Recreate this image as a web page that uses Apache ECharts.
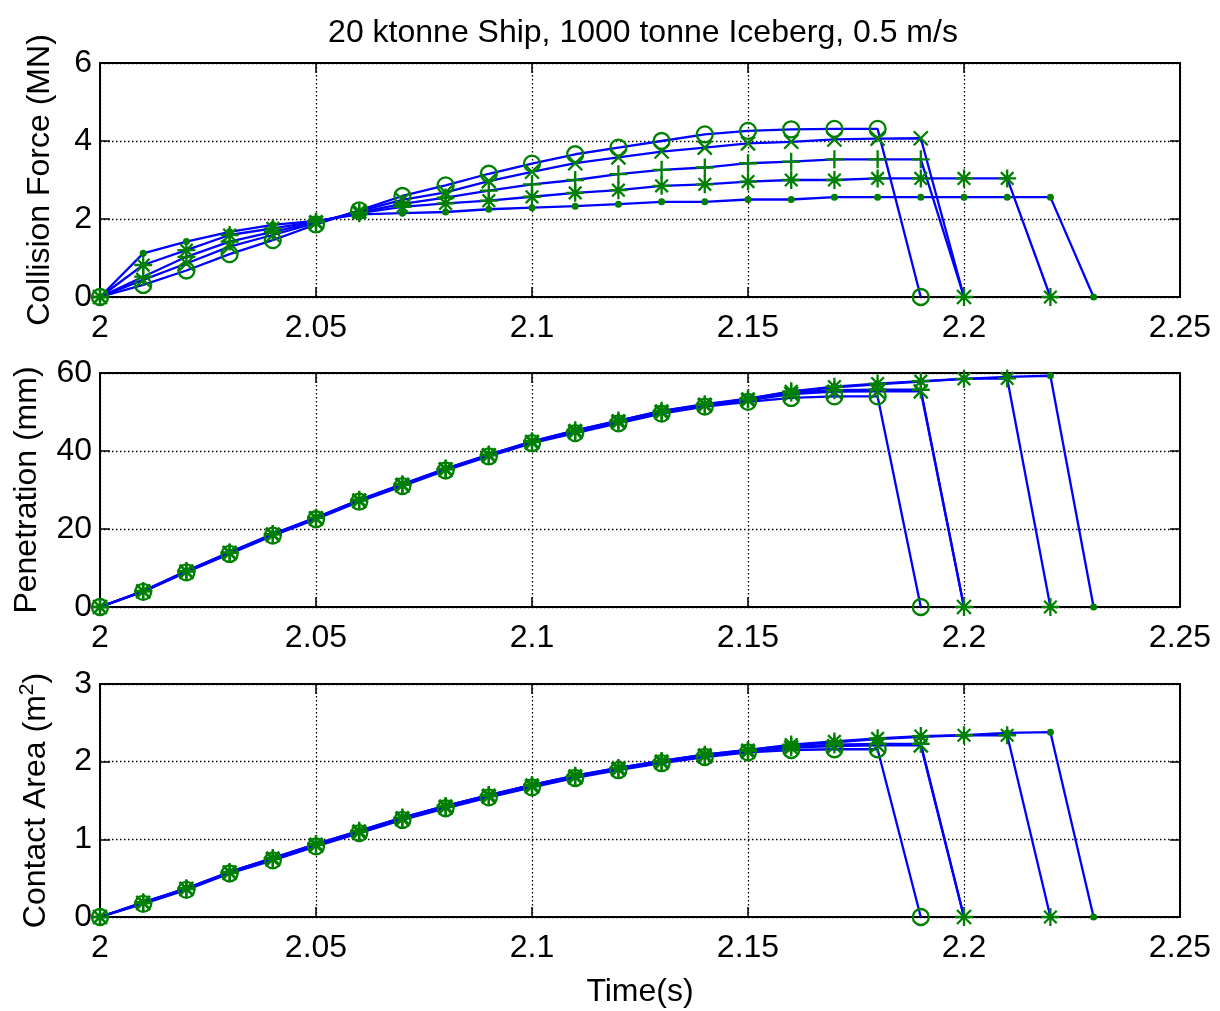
<!DOCTYPE html>
<html>
<head>
<meta charset="utf-8">
<script src="https://cdn.jsdelivr.net/npm/echarts@6/dist/echarts.min.js"></script>
<style>
html,body{margin:0;padding:0;background:#fff;}
#chart{width:1220px;height:1011px;}
</style>
</head>
<body>
<div id="chart"></div>
<script>
// ---- Data ----
var time = [2.00, 2.01, 2.02, 2.03, 2.04, 2.05, 2.06, 2.07, 2.08, 2.09, 2.10, 2.11,
            2.12, 2.13, 2.14, 2.15, 2.16, 2.17, 2.18, 2.19, 2.20, 2.21, 2.22, 2.23];
var titleText = '20 ktonne Ship, 1000 tonne Iceberg, 0.5 m/s';
var xTicks = [2, 2.05, 2.1, 2.15, 2.2, 2.25];

// Collision force (MN)
var forceO    = [0, 0.31, 0.68, 1.10, 1.46, 1.86, 2.22, 2.59, 2.86, 3.16, 3.42, 3.66, 3.83, 4.00, 4.17, 4.26, 4.30, 4.31, 4.31, 0];
var forceX    = [0, 0.44, 0.86, 1.29, 1.59, 1.90, 2.20, 2.49, 2.68, 2.97, 3.21, 3.43, 3.58, 3.73, 3.83, 3.94, 3.98, 4.04, 4.06, 4.07, 0];
var forcePlus = [0, 0.52, 1.03, 1.42, 1.67, 1.92, 2.17, 2.39, 2.55, 2.73, 2.89, 3.00, 3.15, 3.26, 3.32, 3.43, 3.47, 3.53, 3.53, 3.53, 0];
var forceStar = [0, 0.82, 1.20, 1.59, 1.76, 1.93, 2.15, 2.31, 2.40, 2.47, 2.57, 2.67, 2.74, 2.85, 2.89, 2.96, 3.00, 3.00, 3.04, 3.04, 3.04, 3.04, 0];
var forceDot  = [0, 1.12, 1.42, 1.67, 1.85, 1.95, 2.12, 2.15, 2.18, 2.25, 2.29, 2.33, 2.38, 2.44, 2.44, 2.50, 2.50, 2.56, 2.56, 2.56, 2.56, 2.56, 2.56, 0];

// Penetration (mm)
var penO    = [0, 3.9, 8.9, 13.6, 18.3, 22.5, 27.0, 31.0, 35.0, 38.6, 42.0, 44.6, 47.1, 49.6, 51.4, 52.6, 53.6, 54.0, 54.0, 0];
var penX    = [0, 4.0, 9.0, 13.8, 18.5, 22.7, 27.2, 31.2, 35.2, 38.8, 42.2, 44.9, 47.4, 49.9, 51.7, 53.0, 54.6, 55.2, 55.3, 55.3, 0];
var penPlus = [0, 4.0, 9.1, 13.9, 18.6, 22.8, 27.3, 31.3, 35.3, 38.9, 42.3, 45.0, 47.5, 50.0, 51.8, 53.2, 55.0, 55.6, 55.7, 55.7, 0];
var penStar = [0, 4.1, 9.2, 14.0, 18.7, 22.9, 27.5, 31.5, 35.5, 39.1, 42.5, 45.3, 47.8, 50.3, 52.0, 53.4, 55.3, 56.5, 57.3, 57.9, 58.5, 58.6, 0];
var penDot  = [0, 4.1, 9.2, 14.0, 18.7, 22.9, 27.4, 31.4, 35.4, 39.0, 42.4, 45.2, 47.7, 50.2, 51.9, 53.3, 55.2, 56.3, 57.1, 57.8, 58.5, 59.0, 59.3, 0];

// Contact area (m^2)
var areaO    = [0, 0.17, 0.35, 0.56, 0.73, 0.91, 1.08, 1.25, 1.40, 1.54, 1.67, 1.79, 1.89, 1.98, 2.06, 2.12, 2.15, 2.16, 2.16, 0];
var areaX    = [0, 0.18, 0.36, 0.57, 0.74, 0.92, 1.09, 1.26, 1.41, 1.55, 1.68, 1.80, 1.90, 1.99, 2.07, 2.13, 2.18, 2.20, 2.21, 2.21, 0];
var areaPlus = [0, 0.18, 0.36, 0.57, 0.75, 0.93, 1.10, 1.27, 1.42, 1.56, 1.69, 1.81, 1.91, 2.00, 2.08, 2.14, 2.19, 2.22, 2.23, 2.23, 0];
var areaStar = [0, 0.19, 0.37, 0.58, 0.76, 0.94, 1.11, 1.28, 1.43, 1.57, 1.70, 1.82, 1.92, 2.01, 2.09, 2.15, 2.22, 2.26, 2.30, 2.33, 2.34, 2.34, 0];
var areaDot  = [0, 0.19, 0.37, 0.58, 0.76, 0.94, 1.11, 1.28, 1.43, 1.57, 1.70, 1.82, 1.92, 2.01, 2.09, 2.15, 2.21, 2.25, 2.29, 2.32, 2.34, 2.37, 2.38, 0];

// ---- Styling ----
var FONT = '"Liberation Sans", Arial, Helvetica, sans-serif';
var BLUE = '#0000ff';
var GREEN = '#008000';
var SYM_O = 'path://M0,5A5,5,0,1,1,10,5A5,5,0,1,1,0,5Z';
var SYM_X = 'path://M0,0L10,10M10,0L0,10';
var SYM_PLUS = 'path://M5,0L5,10M0,5L10,5';
var SYM_STAR = 'path://M5,0L5,10M0,5L10,5M1.5,1.5L8.5,8.5M8.5,1.5L1.5,8.5';

var markerDefs = [
  {sym: SYM_O, size: 16, filled: false},
  {sym: SYM_X, size: 14, filled: false},
  {sym: SYM_PLUS, size: 18, filled: false},
  {sym: SYM_STAR, size: 18, filled: false},
  {sym: 'circle', size: 7, filled: true}
];

var panels = [
  {top: 63, height: 234, min: 0, max: 6, interval: 2, name: 'Collision Force (MN)', gap: 44,
   data: [forceO, forceX, forcePlus, forceStar, forceDot]},
  {top: 373, height: 234, min: 0, max: 60, interval: 20, name: 'Penetration (mm)', gap: 57,
   data: [penO, penX, penPlus, penStar, penDot]},
  {top: 684, height: 233, min: 0, max: 3, interval: 1, name: 'Contact Area (m{sup|2})', gap: 44,
   data: [areaO, areaX, areaPlus, areaStar, areaDot]}
];

var grids = [], xAxes = [], yAxes = [], series = [];
var axisLineStyle = {color: '#000', width: 2};
var tickStyle = {color: '#000', width: 1.5};
var gridLineStyle = {color: '#000', width: 1.3, type: [1.5, 2.5]};

panels.forEach(function (p, g) {
  grids.push({left: 100, width: 1080, top: p.top, height: p.height, containLabel: false});
  var isLast = (g === panels.length - 1);
  xAxes.push({
    gridIndex: g, type: 'value', position: 'bottom', min: 2, max: 2.25, interval: 0.05,
    axisLine: {onZero: false, lineStyle: axisLineStyle},
    axisTick: {inside: true, length: 10, lineStyle: tickStyle},
    axisLabel: {fontSize: 32, color: '#000', fontFamily: FONT, margin: 15,
                showMinLabel: true, showMaxLabel: true},
    splitLine: {show: true, lineStyle: gridLineStyle},
    name: isLast ? 'Time(s)' : '', nameLocation: 'middle', nameGap: 59,
    nameTextStyle: {fontSize: 32, color: '#000', fontFamily: FONT}
  });
  xAxes.push({
    gridIndex: g, type: 'value', position: 'top', min: 2, max: 2.25, interval: 0.05,
    axisLine: {onZero: false, lineStyle: axisLineStyle},
    axisTick: {inside: true, length: 10, lineStyle: tickStyle},
    axisLabel: {show: false}, splitLine: {show: false}
  });
  yAxes.push({
    gridIndex: g, type: 'value', position: 'left', min: p.min, max: p.max, interval: p.interval,
    axisLine: {show: true, onZero: false, lineStyle: axisLineStyle},
    axisTick: {show: true, inside: true, length: 10, lineStyle: tickStyle},
    axisLabel: {fontSize: 32, color: '#000', fontFamily: FONT, margin: 8},
    splitLine: {show: true, lineStyle: gridLineStyle},
    name: p.name, nameLocation: 'middle', nameGap: p.gap, nameRotate: 90,
    nameTextStyle: {fontSize: 32, color: '#000', fontFamily: FONT,
      rich: {sup: {fontSize: 21, color: '#000', fontFamily: FONT, verticalAlign: 'top', padding: [0, 0, 18, 0]}}}
  });
  yAxes.push({
    gridIndex: g, type: 'value', position: 'right', min: p.min, max: p.max, interval: p.interval,
    axisLine: {show: true, onZero: false, lineStyle: axisLineStyle},
    axisTick: {show: true, inside: true, length: 10, lineStyle: tickStyle},
    axisLabel: {show: false}, splitLine: {show: false}
  });
  p.data.forEach(function (vals, s) {
    var m = markerDefs[s];
    series.push({
      type: 'line', xAxisIndex: g * 2, yAxisIndex: g * 2,
      data: vals.map(function (v, i) { return [time[i], v]; }),
      symbol: m.sym, symbolSize: m.size, showSymbol: true, showAllSymbol: true,
      clip: false, silent: true, animation: false,
      lineStyle: {color: BLUE, width: 2.3},
      itemStyle: m.filled ? {color: GREEN, borderWidth: 0}
                          : {color: 'none', borderColor: GREEN, borderWidth: 2.3}
    });
  });
});

var chart = echarts.init(document.getElementById('chart'), null, {renderer: 'canvas'});
chart.setOption({
  backgroundColor: '#fff',
  animation: false,
  title: {
    text: titleText, left: 638, top: 12, textAlign: 'center',
    textStyle: {fontSize: 32, fontWeight: 'normal', color: '#000', fontFamily: FONT}
  },
  grid: grids, xAxis: xAxes, yAxis: yAxes, series: series
});
</script>
</body>
</html>
